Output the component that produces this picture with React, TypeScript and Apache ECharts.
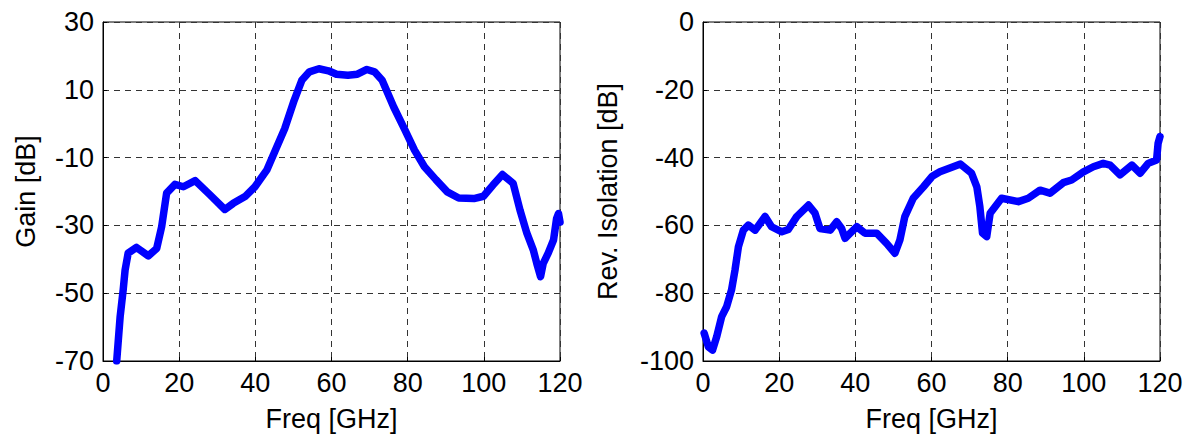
import React, { useEffect, useRef } from "react";
import * as echarts from "echarts";

const freqTicks = [0, 20, 40, 60, 80, 100, 120];
const gainTicks = [-70, -50, -30, -10, 10, 30];
const isoTicks = [-100, -80, -60, -40, -20, 0];

const gainFreq = [3.6, 4.5, 5.3, 5.8, 6.6, 8.8, 11.9, 14.1, 15.4, 16.7, 18.9, 21.1, 24.2, 28.1, 32, 34.2, 37.3, 39.9, 43, 45.2, 47.7, 50.2, 52.2, 54.2, 56.7, 59.2, 61.3, 64.3, 66.8, 69.3, 71.3, 73.3, 76.3, 79.3, 81.8, 84.4, 87.4, 90.4, 93.4, 97.4, 99.9, 102.4, 104.9, 107.7, 109.5, 111.3, 113, 113.9, 114.9, 115.6, 116.9, 118.3, 119.1, 119.6, 120];
const gainDb = [-70, -56.9, -49, -43.2, -38.2, -36.5, -39, -36.8, -30.4, -20.5, -17.9, -18.6, -16.8, -21, -25.3, -23.5, -21.5, -18.6, -13.7, -8, -1.5, 6.9, 12.8, 15.3, 16.2, 15.6, 14.6, 14.3, 14.6, 16, 15.3, 12.8, 5, -1.9, -7.8, -12.7, -16.5, -20.1, -21.9, -22.1, -21.4, -18.1, -15, -17.6, -25.5, -32.3, -37.3, -41.2, -45.1, -41.2, -38.2, -34.3, -28, -26.5, -29];

const isoFreq = [0.3, 1.4, 2.5, 3.6, 4.9, 6.2, 7.5, 8.4, 9.3, 10.6, 11.9, 13.7, 16.3, 18, 20.7, 22.4, 24.6, 27.7, 29.4, 30.7, 33.4, 35.1, 36.4, 37.3, 39, 40.4, 42.5, 45.6, 48.2, 50.4, 51.7, 53, 55.2, 57.9, 60.2, 62.2, 65.7, 67.6, 70.5, 71.9, 72.7, 73.4, 74.5, 75.4, 78.4, 82.8, 85.4, 88.5, 91.1, 94.6, 96.8, 99.9, 102.5, 105.1, 106.9, 109.5, 112.6, 114.8, 116.9, 119.1, 119.5, 120];
const isoDb = [-91.8, -95.8, -96.8, -92.8, -86.9, -84, -79, -73.2, -66.3, -61.4, -59.9, -61.4, -57.4, -60.4, -61.9, -61.2, -57.4, -54, -56.4, -60.9, -61.4, -58.9, -60.9, -63.8, -61.9, -60.4, -62.3, -62.3, -65.3, -68.2, -64.3, -57.4, -52, -48.6, -45.5, -44.2, -42.7, -41.9, -44.6, -48.6, -54.5, -62.3, -63.3, -56.4, -52, -53, -52, -49.6, -50.5, -47.4, -46.6, -44.2, -42.7, -41.7, -42.2, -45.1, -42.2, -44.6, -41.7, -40.7, -35.8, -33.8];

const FONT = "'Liberation Sans', Arial, sans-serif";

function xAxis(gridIndex: number) {
  return {
    type: "value" as const,
    gridIndex,
    min: freqTicks[0],
    max: freqTicks[freqTicks.length - 1],
    interval: 20,
    name: "Freq [GHz]",
    nameLocation: "middle" as const,
    nameGap: 44,
    nameTextStyle: { color: "#000", fontSize: 27, fontFamily: FONT },
    axisLine: { show: true, onZero: false, lineStyle: { color: "#000", width: 1 } },
    axisTick: { show: true, inside: true, length: 4, lineStyle: { color: "#000" } },
    axisLabel: { color: "#000", fontSize: 27, fontFamily: FONT, margin: 8 },
    splitLine: { show: true, lineStyle: { color: "#333", width: 1, type: [6, 5] } },
  };
}

function yAxis(gridIndex: number, ticks: number[], name: string, nameGap: number) {
  return {
    type: "value" as const,
    gridIndex,
    min: ticks[0],
    max: ticks[ticks.length - 1],
    interval: 20,
    name,
    nameLocation: "middle" as const,
    nameRotate: 90,
    nameGap,
    nameTextStyle: { color: "#000", fontSize: 27, fontFamily: FONT },
    axisLine: { show: true, onZero: false, lineStyle: { color: "#000", width: 1 } },
    axisTick: { show: true, inside: true, length: 4, lineStyle: { color: "#000" } },
    axisLabel: { color: "#000", fontSize: 27, fontFamily: FONT, margin: 9 },
    splitLine: { show: true, lineStyle: { color: "#333", width: 1, type: [6, 5] } },
  };
}

export default function App() {
  const ref = useRef<HTMLDivElement>(null);
  useEffect(() => {
    if (!ref.current) return;
    const chart = echarts.init(ref.current, undefined, { renderer: "svg" });
    const lineStyle = { color: "#0000ff", width: 7.5, cap: "round" as const, join: "round" as const };
    chart.setOption({
      animation: false,
      backgroundColor: "#fff",
      grid: [
        { left: 103, top: 22, width: 457, height: 339, show: true, borderColor: "#000", borderWidth: 1, backgroundColor: "transparent" },
        { left: 703, top: 22, width: 457, height: 339, show: true, borderColor: "#000", borderWidth: 1, backgroundColor: "transparent" },
      ],
      xAxis: [xAxis(0), xAxis(1)],
      yAxis: [
        yAxis(0, gainTicks, "Gain [dB]", 64),
        yAxis(1, isoTicks, "Rev. Isolation [dB]", 82),
      ],
      series: [
        {
          type: "line",
          xAxisIndex: 0,
          yAxisIndex: 0,
          showSymbol: false,
          clip: true,
          lineStyle,
          itemStyle: { color: "#0000ff" },
          data: gainFreq.map((f, i) => [f, gainDb[i]]),
        },
        {
          type: "line",
          xAxisIndex: 1,
          yAxisIndex: 1,
          showSymbol: false,
          clip: true,
          lineStyle,
          itemStyle: { color: "#0000ff" },
          data: isoFreq.map((f, i) => [f, isoDb[i]]),
        },
      ],
    });
    return () => chart.dispose();
  }, []);
  return (
    <div
      ref={ref}
      style={{ position: "absolute", left: 0, top: 0, width: 1193, height: 441, background: "#fff" }}
    />
  );
}
